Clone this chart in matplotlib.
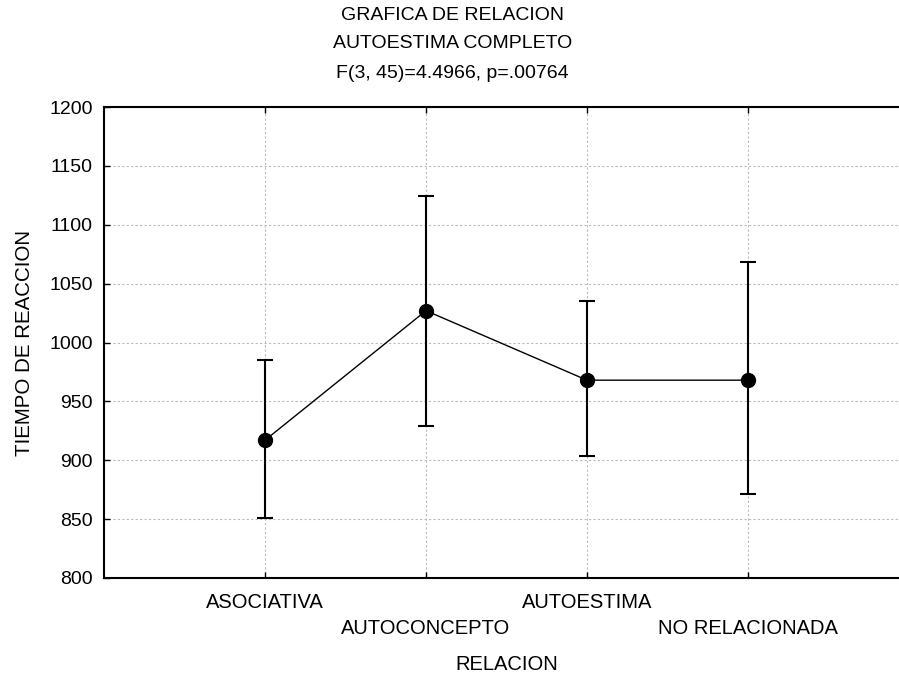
import numpy as np
import matplotlib
matplotlib.use('Agg')
import matplotlib.pyplot as plt

plt.rcParams['font.family'] = ['Liberation Sans', 'DejaVu Sans']

categories = ['ASOCIATIVA', 'AUTOCONCEPTO', 'AUTOESTIMA', 'NO RELACIONADA']
means = [917, 1027, 968, 968]
upper = [985, 1124, 1035, 1068]
lower = [851, 929, 904, 871]

x = np.arange(1, len(categories) + 1)
means = np.array(means)
yerr = [means - np.array(lower), np.array(upper) - means]

fig = plt.figure(figsize=(8.99, 6.77), dpi=100)
# right edge of the plot area runs past the figure, as in the original
ax = fig.add_axes([104 / 899, 1 - 578 / 677, 805 / 899, 471 / 677])

ax.errorbar(x, means, yerr=yerr, fmt='none', ecolor='black',
            elinewidth=1.5, capsize=6, capthick=1.5, zorder=3)
ax.plot(x, means, color='black', lw=1, marker='o', markersize=10, zorder=4)

ax.set_xlim(0, 5)
ax.set_ylim(800, 1200)
ax.set_yticks(np.arange(800, 1201, 50))
ax.set_xticks(x)
labels = [c if i % 2 == 0 else '\n' + c for i, c in enumerate(categories)]
ax.set_xticklabels(labels, fontsize=14.5, linespacing=1.45)
ax.tick_params(axis='both', direction='in', length=4, width=1)
ax.tick_params(axis='y', labelsize=14, pad=8)
ax.tick_params(axis='x', pad=11, top=True)

ax.grid(True, color='#bbbbbb', linestyle=(0, (2, 2)), linewidth=0.8)
for s in ax.spines.values():
    s.set_linewidth(1.5)

ax.set_xlabel('RELACION', fontsize=14.5, labelpad=12)
ax.set_ylabel('TIEMPO DE REACCION', fontsize=14.8, labelpad=11)

fig.text(0.503, 1 - 16 / 677, 'GRAFICA DE RELACION', ha='center', va='center', fontsize=14)
fig.text(0.503, 1 - 43 / 677, 'AUTOESTIMA COMPLETO', ha='center', va='center', fontsize=14)
fig.text(0.503, 1 - 73 / 677, 'F(3, 45)=4.4966, p=.00764', ha='center', va='center', fontsize=14)

fig.savefig('out.png', dpi=100)
